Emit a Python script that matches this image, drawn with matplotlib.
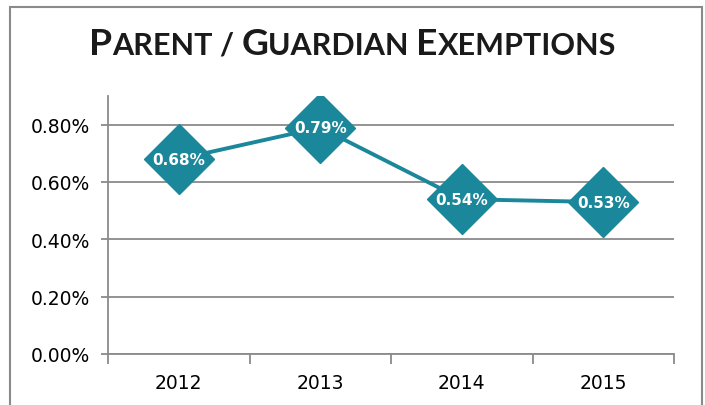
import matplotlib.pyplot as plt
from matplotlib.patches import Rectangle
from matplotlib.ticker import FixedLocator, PercentFormatter

# Data
years = ['2012', '2013', '2014', '2015']
rates = [0.68, 0.79, 0.54, 0.53]   # percent
labels = ['0.68%', '0.79%', '0.54%', '0.53%']
yticks = [0.0, 0.2, 0.4, 0.6, 0.8]

teal = '#1b879b'
grey = '#8a8a8a'

W, H = 705, 406
fig = plt.figure(figsize=(W / 100, H / 100), dpi=100)

# outer frame of the chart area (bottom runs off the picture)
fig.patches.append(Rectangle((10 / W, -0.05), 692 / W, 1.05 - 8 / H,
                             transform=fig.transFigure, fill=False,
                             edgecolor=grey, linewidth=1.5))

ax = fig.add_axes([108 / W, 1 - 355 / H, 566 / W, 258 / H])
x = list(range(len(years)))
ax.plot(x, rates, color=teal, linewidth=2.8, marker='D', markersize=36,
        markerfacecolor=teal, markeredgecolor=teal, zorder=3)
for xi, v, lab in zip(x, rates, labels):
    ax.text(xi, v, lab, ha='center', va='center', color='white',
            fontsize=11, fontweight='bold', zorder=4)

ax.set_xlim(-0.5, len(years) - 0.5)
ax.set_ylim(0, 0.9)
ax.yaxis.set_major_locator(FixedLocator(yticks))
ax.yaxis.set_major_formatter(PercentFormatter(decimals=2))
ax.grid(axis='y', color=grey, linewidth=1.3)
ax.set_axisbelow(True)

ax.xaxis.set_major_locator(FixedLocator([i - 0.5 for i in range(len(years) + 1)]))
ax.xaxis.set_minor_locator(FixedLocator(x))
ax.set_xticklabels([])
ax.set_xticklabels(years, minor=True)
ax.tick_params(axis='x', which='major', length=7, color=grey, width=1.3)
ax.tick_params(axis='x', which='minor', length=0, pad=14, labelsize=13.5)
ax.tick_params(axis='y', length=5, color=grey, width=1.3, pad=8, labelsize=13.5)

for side in ['top', 'right']:
    ax.spines[side].set_visible(False)
for side in ['left', 'bottom']:
    ax.spines[side].set_color(grey)
    ax.spines[side].set_linewidth(1.3)

# title in small caps, built from pieces
pieces = [('P', 1), ('ARENT / ', 0.82), ('G', 1), ('UARDIAN ', 0.82),
          ('E', 1), ('XEMPTIONS', 0.82)]
title_font = ['Lato', 'DejaVu Sans']
base = 26
fig.canvas.draw()
renderer = fig.canvas.get_renderer()


def build(size):
    texts = []
    for s, k in pieces:
        t = fig.text(0, 0, s, fontsize=size * k, fontweight='bold',
                     family=title_font, color='#1a1a1a', va='baseline')
        texts.append(t)
    widths = [t.get_window_extent(renderer).width for t in texts]
    return texts, widths


texts, widths = build(base)
total = sum(widths)
for t in texts:
    t.remove()
size = base * 527 / total
texts, widths = build(size)
xpos = (W - sum(widths)) / 2
for t, w in zip(texts, widths):
    t.set_position((xpos / W, 1 - 55 / H))
    xpos += w

fig.savefig('out.png', dpi=100)
